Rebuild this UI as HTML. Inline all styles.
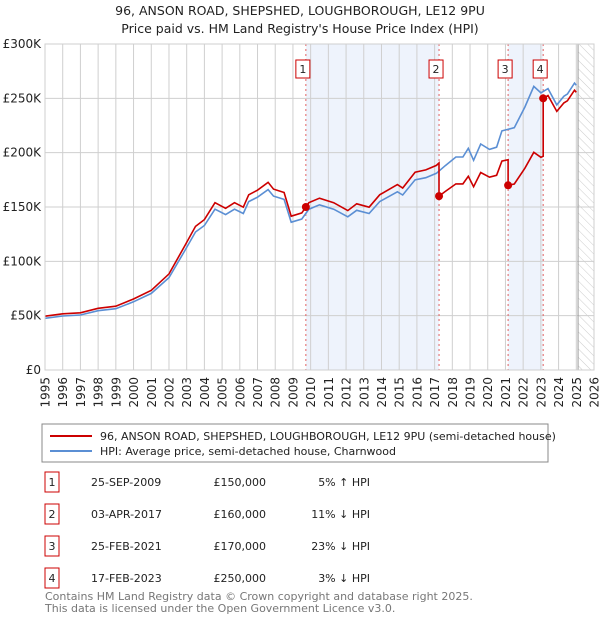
<!DOCTYPE html>
<html><head><meta charset="utf-8"><style>
body{margin:0;background:#fff;font-family:"Liberation Sans","DejaVu Sans",sans-serif;}
svg text{font-family:"DejaVu Sans","Liberation Sans",sans-serif;}
</style></head><body>
<svg id="c" width="600" height="620" viewBox="0 0 600 620" xmlns="http://www.w3.org/2000/svg">
<defs><pattern id="hatch" width="6" height="6" patternUnits="userSpaceOnUse" patternTransform="rotate(-45)"><line x1="0" y1="0" x2="0" y2="6" stroke="#ccc" stroke-width="1"/></pattern></defs>
<text x="300" y="15" text-anchor="middle" font-size="12.5" fill="#222">96, ANSON ROAD, SHEPSHED, LOUGHBOROUGH, LE12 9PU</text>
<text x="300" y="33" text-anchor="middle" font-size="12.5" fill="#222">Price paid vs. HM Land Registry's House Price Index (HPI)</text>
<g id="plot"></g>
<rect x="42" y="424" width="506" height="38" fill="#fff" stroke="#888"/>
<line x1="50" y1="436" x2="92" y2="436" stroke="#cc0000" stroke-width="2"/>
<text x="100" y="440" font-size="11" fill="#222">96, ANSON ROAD, SHEPSHED, LOUGHBOROUGH, LE12 9PU (semi-detached house)</text>
<line x1="50" y1="451" x2="92" y2="451" stroke="#5b8fd4" stroke-width="2"/>
<text x="100" y="455" font-size="11" fill="#222">HPI: Average price, semi-detached house, Charnwood</text>
<g id="table" font-size="11" fill="#222"></g>
<text x="45" y="600" font-size="11" fill="#777">Contains HM Land Registry data © Crown copyright and database right 2025.</text>
<text x="45" y="612" font-size="11" fill="#777">This data is licensed under the Open Government Licence v3.0.</text>
</svg>
<script>
const hpiYears=[1995,1996,1997,1998,1999,2000,2001,2002,2002.9,2003.5,2004,2004.6,2005.2,2005.7,2006.2,2006.5,2007,2007.6,2007.9,2008.5,2008.9,2009.5,2009.9,2010.5,2011.3,2012.1,2012.6,2013.3,2013.9,2014.9,2015.2,2015.9,2016.5,2017.1,2017.6,2018.2,2018.6,2018.9,2019.2,2019.6,2020.1,2020.5,2020.8,2021.5,2022.1,2022.6,2023.0,2023.4,2023.9,2024.3,2024.5,2024.9,2025.0];
const hpiValues=[47.6,49.7,50.6,54.6,56.4,62.8,70.5,85,110,127,133,148,143,148,144,155,159,166,160,157,136,139,148,152,148,141,147,144,155,164,161,175,177,181,188,196,196,204,193,208,203,205,220,223,242,261,255,259,244,252,254,264,262];
const saleLabels=["1","2","3","4"];
const saleDates=["25-SEP-2009","03-APR-2017","25-FEB-2021","17-FEB-2023"];
const saleYears=[2009.73,2017.25,2021.15,2023.13];
const salePrices=[150,160,170,250];
const salePriceText=["£150,000","£160,000","£170,000","£250,000"];
const saleDiffText=["5% ↑ HPI","11% ↓ HPI","23% ↓ HPI","3% ↓ HPI"];
const yTicks=[0,50,100,150,200,250,300];
const yTickLabels=["£0","£50K","£100K","£150K","£200K","£250K","£300K"];
const xTicks=[1995,1996,1997,1998,1999,2000,2001,2002,2003,2004,2005,2006,2007,2008,2009,2010,2011,2012,2013,2014,2015,2016,2017,2018,2019,2020,2021,2022,2023,2024,2025,2026];
const dataEnd=2025.1;

const L=45,R=594,T=44,B=370;
const X=y=>L+(y-1995)*(R-L)/31;
const Y=v=>B-v*(B-T)/300;
const NS="http://www.w3.org/2000/svg";
const plot=document.getElementById('plot');
function mk(tag,attrs,parent){const e=document.createElementNS(NS,tag);for(const k in attrs)e.setAttribute(k,attrs[k]);(parent||plot).appendChild(e);return e;}
function hpiAt(t){if(t<=hpiYears[0])return hpiValues[0];for(let i=1;i<hpiYears.length;i++){if(t<=hpiYears[i]){const f=(t-hpiYears[i-1])/(hpiYears[i]-hpiYears[i-1]);return hpiValues[i-1]+f*(hpiValues[i]-hpiValues[i-1]);}}return hpiValues[hpiValues.length-1];}

for(const [a,b] of [[0,1],[2,3]]){
 const r=mk('rect',{x:X(saleYears[a]),y:T,width:X(saleYears[b])-X(saleYears[a]),height:B-T,fill:'#eef3fc'});
 
 
}
const h=mk('rect',{x:X(dataEnd),y:T,width:R-X(dataEnd),height:B-T,fill:'url(#hatch)'});


xTicks.forEach(t=>{
 const g=mk('line',{x1:X(t),x2:X(t),y1:T,y2:B,stroke:'#cfcfcf','stroke-width':1});
 
 
 const tx=mk('text',{x:0,y:0,'text-anchor':'end','font-size':12,fill:'#222',transform:'translate('+(X(t)+4.5)+','+(B+7)+') rotate(-90)'});
 tx.textContent=t;
 
 
});
yTicks.forEach((v,i)=>{
 const g=mk('line',{x1:L,x2:R,y1:Y(v),y2:Y(v),stroke:'#cfcfcf','stroke-width':1});
 
 
 const tx=mk('text',{x:L-4,y:Y(v)+4,'text-anchor':'end','font-size':12,fill:'#222'});
 tx.textContent=yTickLabels[i];
 
 
});
const dl=mk('line',{x1:X(dataEnd),x2:X(dataEnd),y1:T,y2:B,stroke:'#999','stroke-width':1});


saleYears.forEach((t,i)=>{
 const l=mk('line',{x1:X(t),x2:X(t),y1:T,y2:B,stroke:'#e06060','stroke-width':1,'stroke-dasharray':'2,3'});
 
 
 const bx=mk('rect',{x:X(t)-10,y:60,width:14,height:18,fill:'#fff',stroke:'#cc0000'});
 
 
 const tx=mk('text',{x:X(t)-3,y:73,'text-anchor':'middle','font-size':11,fill:'#222'});
 tx.textContent=saleLabels[i];
 
 
});
const hp=hpiYears.map((t,i)=>X(t).toFixed(1)+','+Y(hpiValues[i]).toFixed(1)).join(' ');
const hl=mk('polyline',{points:hp,fill:'none',stroke:'#5b8fd4','stroke-width':1.6});


const pts=[];
function ratioAt(t){let k=0;for(let i=0;i<saleYears.length;i++)if(t>=saleYears[i])k=i;return salePrices[k]/hpiAt(saleYears[k]);}
const times=hpiYears.concat(saleYears).sort((a,b)=>a-b);
times.forEach(t=>{
 const si=saleYears.indexOf(t);
 if(si>0){pts.push([t,hpiAt(t)*salePrices[si-1]/hpiAt(saleYears[si-1])]);}
 pts.push([t,hpiAt(t)*ratioAt(t)]);
});
const pl=mk('polyline',{points:pts.map(p=>X(p[0]).toFixed(1)+','+Y(p[1]).toFixed(1)).join(' '),fill:'none',stroke:'#cc0000','stroke-width':1.6});


saleYears.forEach((t,i)=>{
 const d=mk('circle',{cx:X(t),cy:Y(salePrices[i]),r:4,fill:'#cc0000'});
 
 
});
const fr=mk('rect',{x:L,y:T,width:R-L,height:B-T,fill:'none',stroke:'#cfcfcf'});


const tb=document.getElementById('table');
saleLabels.forEach((lab,i)=>{
 const cy=482+i*32;
 const b=mk('rect',{x:45,y:cy-10,width:14,height:20,fill:'#fff',stroke:'#cc0000'},tb);
 
 
 const t0=mk('text',{x:52,y:cy+4,'text-anchor':'middle'},tb);t0.textContent=lab;
 
 
 const t1=mk('text',{x:91,y:cy+4},tb);t1.textContent=saleDates[i];
 
 
 const t2=mk('text',{x:266,y:cy+4,'text-anchor':'end'},tb);t2.textContent=salePriceText[i];
 
 
 const t3=mk('text',{x:370,y:cy+4,'text-anchor':'end'},tb);t3.textContent=saleDiffText[i];
 
 
});
</script>
</body></html>
